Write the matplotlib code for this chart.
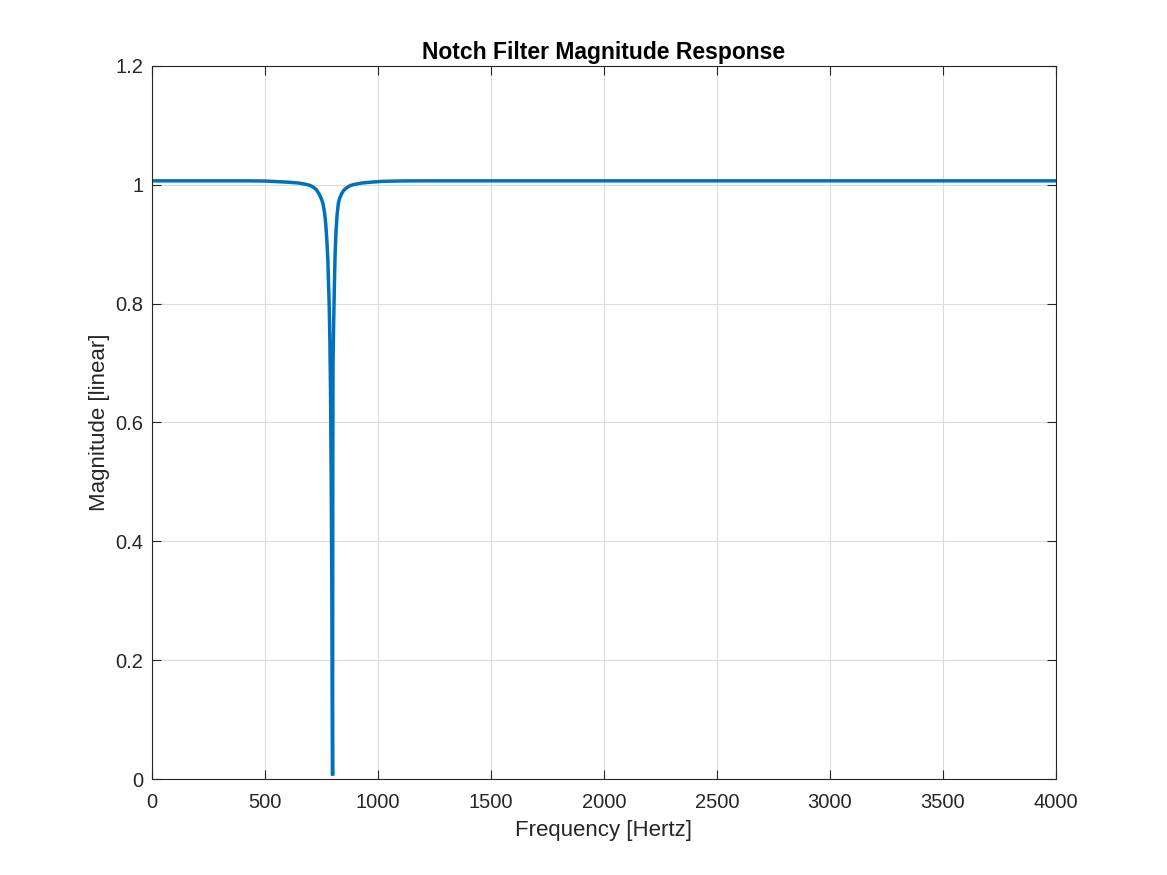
import matplotlib
matplotlib.use("Agg")
import matplotlib.pyplot as plt

# Values (frequency in Hz, linear magnitude)
freq_hz = [0, 200, 400, 500, 600, 650, 680, 700, 715, 728, 740, 750, 757,
           765, 770, 775, 779, 782, 785, 788, 791, 794, 797, 800,
           801, 802, 805, 808, 811, 815, 820, 826, 832, 840, 850, 862, 880,
           900, 930, 970, 1020, 1100, 1200, 1500, 2000, 2500, 3000, 3500,
           4000]
magnitude = [1.0067, 1.0067, 1.0067, 1.0064, 1.0045, 1.003, 1.001, 0.999,
             0.996, 0.992, 0.985, 0.977, 0.969, 0.952, 0.933, 0.905, 0.875,
             0.835, 0.800, 0.740, 0.650, 0.500, 0.300, 0.006,
             0.500, 0.700, 0.770, 0.830, 0.880, 0.920, 0.950, 0.970, 0.978,
             0.985, 0.991, 0.995, 0.999, 1.001, 1.003, 1.0045, 1.0058,
             1.0065, 1.0067, 1.0067, 1.0067, 1.0067, 1.0067, 1.0067, 1.0067]

x_ticks = [0, 500, 1000, 1500, 2000, 2500, 3000, 3500, 4000]
y_ticks = [0, 0.2, 0.4, 0.6, 0.8, 1.0, 1.2]
y_tick_labels = ["0", "0.2", "0.4", "0.6", "0.8", "1", "1.2"]

plt.rcParams['font.family'] = ['Liberation Sans', 'DejaVu Sans']
dark = "#262626"

fig = plt.figure(figsize=(11.67, 8.75), dpi=100)
ax = fig.add_axes([0.1300, 0.1097, 0.7749, 0.8149])

ax.plot(freq_hz, magnitude, color="#0072BD", linewidth=2.5,
        solid_joinstyle="miter")

ax.set_xlim(0, 4000)
ax.set_ylim(0, 1.2)
ax.set_xticks(x_ticks)
ax.set_yticks(y_ticks)
ax.set_yticklabels(y_tick_labels)

# MATLAB-like look: grid, box, inward ticks on all sides
ax.grid(True, color="#dcdcdc", linewidth=0.8)
ax.set_axisbelow(True)
ax.tick_params(direction="in", length=6.5, width=0.8, colors=dark,
               labelsize=14.5, top=True, right=True)
ax.tick_params(axis="x", pad=10)
ax.tick_params(axis="y", pad=6)
for s in ax.spines.values():
    s.set_color(dark)
    s.set_linewidth(0.8)

ax.set_title("Notch Filter Magnitude Response", fontsize=16.5,
             fontweight="bold", color="black", pad=5)
ax.set_xlabel("Frequency [Hertz]", fontsize=16, color=dark, labelpad=6)
ax.set_ylabel("Magnitude [linear]", fontsize=16, color=dark, labelpad=4)

fig.savefig("out.png", dpi=100)
